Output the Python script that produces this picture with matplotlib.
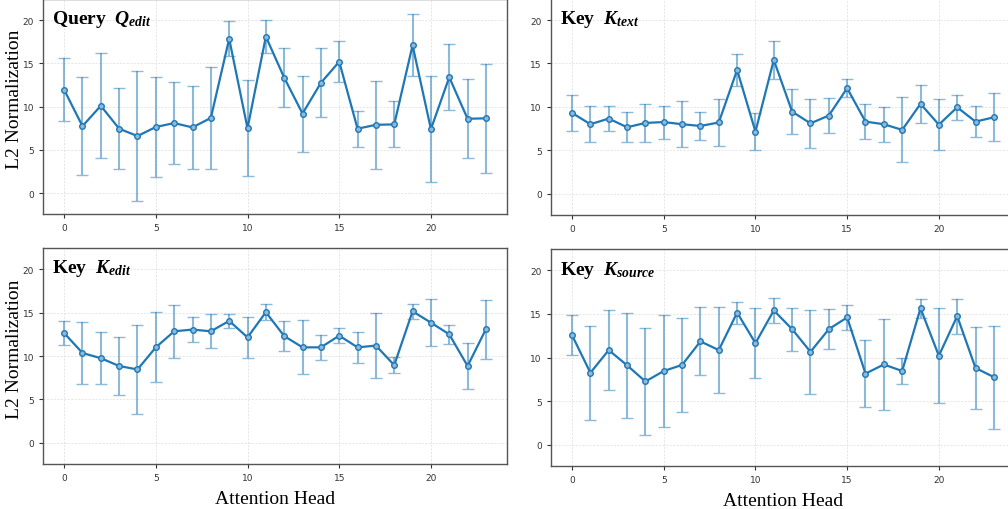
import numpy as np
import matplotlib
matplotlib.use('Agg')
import matplotlib.pyplot as plt

heads = np.arange(24)

# Query Q_edit
q_edit_mean = [11.95, 7.75, 10.1, 7.45, 6.6, 7.65, 8.1, 7.6, 8.7, 17.85, 7.5, 18.1,
               13.35, 9.2, 12.75, 15.2, 7.45, 7.9, 7.95, 17.1, 7.4, 13.4, 8.6, 8.65]
q_edit_std = [3.65, 5.65, 6.05, 4.7, 7.5, 5.8, 4.75, 4.8, 5.9, 2.0, 5.55, 1.9,
              3.4, 4.4, 4.0, 2.35, 2.1, 5.1, 2.65, 3.6, 6.1, 3.8, 4.55, 6.3]

# Key K_text
k_text_mean = [9.3, 8.0, 8.65, 7.65, 8.15, 8.25, 8.0, 7.8, 8.2, 14.25, 7.15, 15.4,
               9.45, 8.1, 9.0, 12.15, 8.3, 8.0, 7.35, 10.35, 7.95, 9.95, 8.3, 8.8]
k_text_std = [2.1, 2.05, 1.45, 1.75, 2.2, 1.9, 2.65, 1.6, 2.7, 1.8, 2.15, 2.2,
              2.6, 2.8, 2.0, 1.05, 2.0, 2.0, 3.75, 2.2, 2.9, 1.45, 1.8, 2.75]

# Key K_edit
k_edit_mean = [12.65, 10.35, 9.75, 8.85, 8.45, 11.0, 12.85, 13.05, 12.85, 14.05, 12.15, 15.05,
               12.3, 11.0, 11.0, 12.35, 11.0, 11.2, 8.95, 15.15, 13.85, 12.5, 8.85, 13.1]
k_edit_std = [1.35, 3.6, 3.0, 3.35, 5.15, 4.05, 3.05, 1.4, 1.95, 0.85, 2.4, 0.9,
              1.7, 3.1, 1.45, 0.9, 1.8, 3.75, 0.9, 0.9, 2.7, 1.1, 2.7, 3.4]

# Key K_source
k_source_mean = [12.55, 8.25, 10.85, 9.1, 7.25, 8.45, 9.15, 11.85, 10.85, 15.15, 11.65, 15.4,
                 13.25, 10.65, 13.25, 14.6, 8.15, 9.2, 8.45, 15.65, 10.2, 14.75, 8.8, 7.75]
k_source_std = [2.3, 5.4, 4.6, 6.0, 6.1, 6.4, 5.4, 3.9, 4.9, 1.25, 4.0, 1.4,
                2.45, 4.85, 2.3, 1.45, 3.85, 5.2, 1.5, 1.1, 5.45, 2.0, 4.75, 5.9]

plt.rcParams['mathtext.fontset'] = 'custom'
plt.rcParams['mathtext.rm'] = 'Liberation Serif:bold'
plt.rcParams['mathtext.it'] = 'Liberation Serif:italic:bold'
plt.rcParams['mathtext.bf'] = 'Liberation Serif:bold'

color = '#1f77b4'

panels = [
    ('Query  $Q_{edit}$', q_edit_mean, q_edit_std, [0.0427, 0.5778, 0.4603, 0.4222], True, False),
    ('Key  $K_{text}$', k_text_mean, k_text_std, [0.5466, 0.5765, 0.4603, 0.4240], False, False),
    ('Key  $K_{edit}$', k_edit_mean, k_edit_std, [0.0427, 0.0882, 0.4603, 0.4235], True, True),
    ('Key  $K_{source}$', k_source_mean, k_source_std, [0.5466, 0.0843, 0.4603, 0.4255], False, True),
]

fig = plt.figure(figsize=(10.08, 5.1), dpi=100)
for ttl, mean, std, pos, ylab, xlab in panels:
    ax = fig.add_axes(pos)
    ax.errorbar(heads, mean, yerr=std, color=color, lw=1.6,
                marker='o', ms=4, mfc='#8fb9da', mec=color, mew=1,
                ecolor=color, elinewidth=1.5, capsize=4, capthick=1.3,
                zorder=3)
    # make error bars lighter than the line
    for c in ax.containers:
        for art in c[1] + c[2]:
            art.set_alpha(0.5)
    ax.set_xlim(-1.15, 24.15)
    ax.set_ylim(-2.45, 22.45)
    ax.set_xticks([0, 5, 10, 15, 20])
    ax.set_yticks([0, 5, 10, 15, 20])
    ax.grid(True, ls=(0, (3, 2)), lw=0.5, color='#dcdcdc')
    ax.set_axisbelow(True)
    ax.tick_params(labelsize=6.5, length=3, width=0.8, colors='#333333')
    for s in ax.spines.values():
        s.set_color('#555555')
        s.set_linewidth(1.0)
    ax.text(0.019, 0.887, ttl, transform=ax.transAxes, fontsize=14,
            fontweight='bold', family='Liberation Serif', va='baseline')
    if ylab:
        ax.set_ylabel('L2 Normalization', fontsize=14, family='Liberation Serif')
        ax.yaxis.set_label_coords(-0.043, 0.537)
    if xlab:
        ax.set_xlabel('Attention Head', fontsize=14, family='Liberation Serif',
                      labelpad=6)

plt.savefig('out.png', dpi=100)
plt.close(fig)
